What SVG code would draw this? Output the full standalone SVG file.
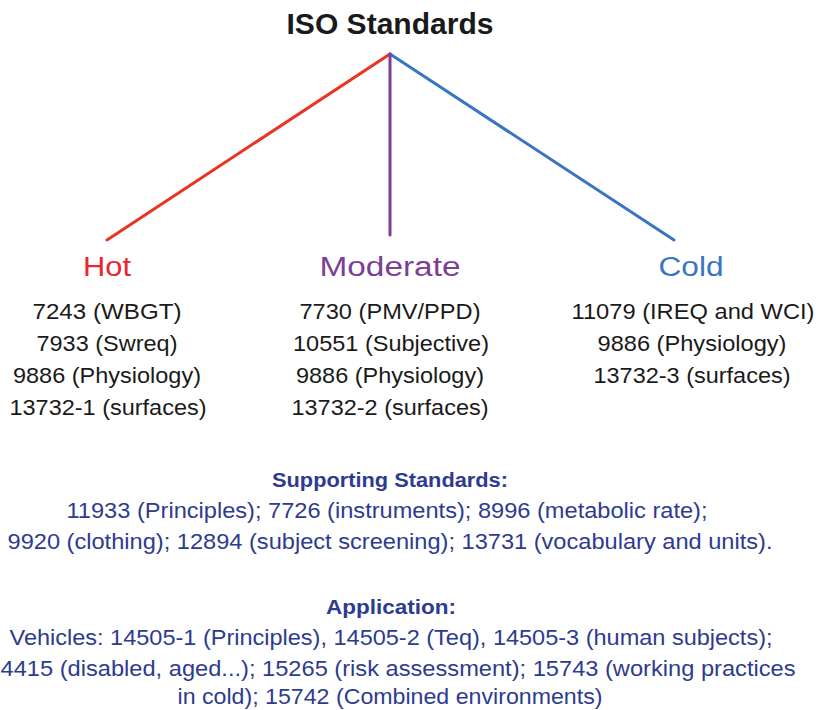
<svg xmlns="http://www.w3.org/2000/svg" width="816" height="710" viewBox="0 0 816 710">
<style>
text{font-family:"Liberation Sans","DejaVu Sans",sans-serif;text-anchor:middle}
.t{font-size:29px;font-weight:bold;fill:#1a1a1a}
.h{font-size:27px}
.i{font-size:22px;fill:#1a1a1a}
.sh{font-size:20px;font-weight:bold;fill:#2e3b8f}
.s{font-size:22px;fill:#2e3b8f}
.c{fill:none;stroke-width:3;stroke-linecap:round}
</style>
<rect width="816" height="710" fill="#ffffff"/>
<g id="title"><text class="t" x="390" y="34" textLength="207" lengthAdjust="spacingAndGlyphs">ISO Standards</text></g>
<g id="connectors">
<line class="c" x1="390" y1="54" x2="107" y2="240" stroke="#ea3323"/>
<line class="c" x1="390" y1="54" x2="674" y2="240" stroke="#3a75c4"/>
<line class="c" x1="390" y1="54" x2="390" y2="235" stroke="#7b3f98"/>
</g>
<g id="hot">
<text class="h" x="107" y="276" fill="#e8272e" textLength="48" lengthAdjust="spacingAndGlyphs">Hot</text>
<text class="i" x="107" y="319" textLength="149" lengthAdjust="spacingAndGlyphs">7243 (WBGT)</text>
<text class="i" x="107" y="351" textLength="141" lengthAdjust="spacingAndGlyphs">7933 (Swreq)</text>
<text class="i" x="107" y="383" textLength="188" lengthAdjust="spacingAndGlyphs">9886 (Physiology)</text>
<text class="i" x="108" y="415" textLength="197" lengthAdjust="spacingAndGlyphs">13732-1 (surfaces)</text>
</g>
<g id="moderate">
<text class="h" x="390" y="276" fill="#7b3f98" textLength="141" lengthAdjust="spacingAndGlyphs">Moderate</text>
<text class="i" x="390" y="319" textLength="181" lengthAdjust="spacingAndGlyphs">7730 (PMV/PPD)</text>
<text class="i" x="391" y="351" textLength="196" lengthAdjust="spacingAndGlyphs">10551 (Subjective)</text>
<text class="i" x="390" y="383" textLength="188" lengthAdjust="spacingAndGlyphs">9886 (Physiology)</text>
<text class="i" x="390" y="415" textLength="197" lengthAdjust="spacingAndGlyphs">13732-2 (surfaces)</text>
</g>
<g id="cold">
<text class="h" x="691" y="276" fill="#3a75c4" textLength="65" lengthAdjust="spacingAndGlyphs">Cold</text>
<text class="i" x="693" y="319" textLength="243" lengthAdjust="spacingAndGlyphs">11079 (IREQ and WCI)</text>
<text class="i" x="692" y="351" textLength="189" lengthAdjust="spacingAndGlyphs">9886 (Physiology)</text>
<text class="i" x="692" y="383" textLength="197" lengthAdjust="spacingAndGlyphs">13732-3 (surfaces)</text>
</g>
<g id="supporting">
<text class="sh" x="390" y="487" textLength="236" lengthAdjust="spacingAndGlyphs">Supporting Standards:</text>
<text class="s" x="387" y="518" textLength="641" lengthAdjust="spacingAndGlyphs">11933 (Principles); 7726 (instruments); 8996 (metabolic rate);</text>
<text class="s" x="390" y="549" textLength="765" lengthAdjust="spacingAndGlyphs">9920 (clothing); 12894 (subject screening); 13731 (vocabulary and units).</text>
</g>
<g id="application">
<text class="sh" x="391" y="614" textLength="130" lengthAdjust="spacingAndGlyphs">Application:</text>
<text class="s" x="391" y="645" textLength="763" lengthAdjust="spacingAndGlyphs">Vehicles: 14505-1 (Principles), 14505-2 (Teq), 14505-3 (human subjects);</text>
<text class="s" x="398" y="676" textLength="795" lengthAdjust="spacingAndGlyphs">4415 (disabled, aged...); 15265 (risk assessment); 15743 (working practices</text>
<text class="s" x="390" y="704" textLength="425" lengthAdjust="spacingAndGlyphs">in cold); 15742 (Combined environments)</text>
</g>
</svg>
